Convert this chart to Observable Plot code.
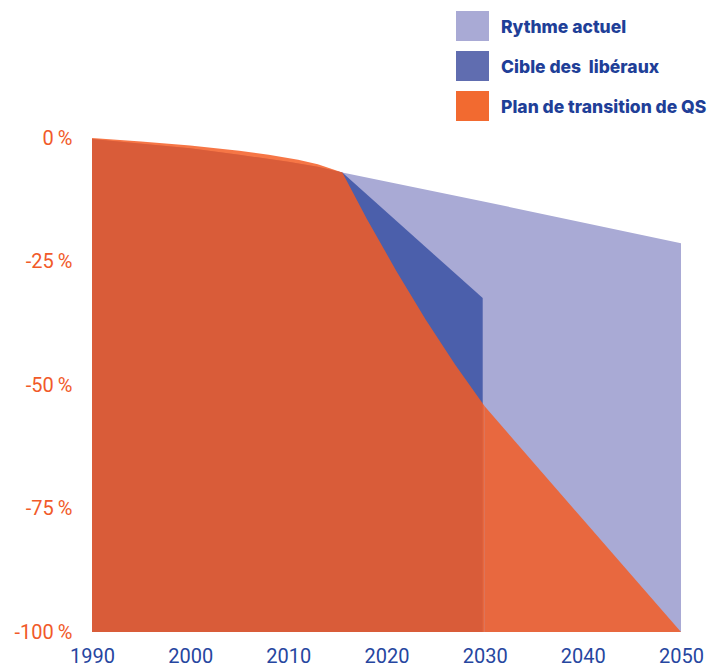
<!DOCTYPE html>
<html><head><meta charset="utf-8">
<script src="https://cdn.jsdelivr.net/npm/d3@7"></script>
<script src="https://cdn.jsdelivr.net/npm/@observablehq/plot@0.6"></script>
<style>
body{margin:0;background:#fff;}
#wrap{position:relative;width:712px;height:669px;overflow:hidden;}
.legend{position:absolute;left:456px;top:11px;font-family:Inter, "Open Sans", sans-serif;font-weight:800;font-size:17.5px;color:#1f3f98;}
.item{display:flex;align-items:center;height:30px;margin-bottom:10px;white-space:pre;}
.sw{width:33px;height:30px;margin-right:12px;flex:none;}
</style></head><body><div id="wrap"></div>
<script>
const seriesNames = ["Rythme actuel", "Cible des  libéraux", "Plan de transition de QS"];
const seriesColors = ["#a9aad5", "#606db0", "#f26a30"];

const rythmeYears = [1990, 2000, 2005, 2010, 2013, 2015.5, 2030, 2050];
const rythmeValues = [-0.2, -2.1, -3.4, -4.8, -5.8, -7.0, -12.9, -21.3];

const cibleYears = [1990, 2000, 2005, 2010, 2013, 2015.5, 2029.8];
const cibleValues = [-0.2, -2.1, -3.4, -4.8, -5.8, -7.0, -32.4];

const qsYears = [1990, 1995, 2000, 2005, 2008, 2011, 2013, 2015.5, 2018, 2021, 2024, 2027, 2030];
const qsValues = [0, -0.7, -1.5, -2.6, -3.4, -4.4, -5.3, -7.0, -16.4, -26.9, -36.8, -45.9, -54.3];

const qsLateYears = [2030, 2040, 2050];
const qsLateValues = [-54.3, -77.2, -100];

const yTicks = [0, -25, -50, -75, -100];
const xTicks = [1990, 2000, 2010, 2020, 2030, 2040, 2050];

const toRows = (xs, vs) => xs.map((x, i) => ({x, v: vs[i]}));
const rythme = toRows(rythmeYears, rythmeValues);
const cible = toRows(cibleYears, cibleValues);
const qs = toRows(qsYears, qsValues);
const qsLate = toRows(qsLateYears, qsLateValues);

const orange = "#f45c23";
const plot = Plot.plot({
  width: 712,
  height: 669,
  marginLeft: 92,
  marginRight: 31,
  marginTop: 138,
  marginBottom: 37,
  style: {fontFamily: "Roboto, sans-serif", background: "#fff", overflow: "visible"},
  x: {domain: [1990, 2050]},
  y: {domain: [-100, 0]},
  marks: [
    Plot.areaY(rythme, {x: "x", y1: d => -100, y2: "v", fill: "#a9aad5"}),
    Plot.areaY(cible, {x: "x", y1: d => -100, y2: "v", fill: "#4b5fab"}),
    Plot.areaY(qs, {x: "x", y1: d => -100, y2: "v", fill: orange, fillOpacity: 0.84}),
    Plot.areaY(qsLate, {x: "x", y1: d => -100, y2: "v", fill: orange, fillOpacity: 0.84}),
    Plot.axisY({ticks: yTicks, tickSize: 0, tickPadding: 20, fontSize: 20, fill: "#f15a29",
      tickFormat: d => String(d) + "\u2009%", label: null}),
    Plot.axisX({ticks: xTicks, tickSize: 0, tickPadding: 16, fontSize: 20, fill: "#2646a0",
      tickFormat: d => String(d), label: null})
  ]
});
const wrap = document.getElementById("wrap");
wrap.appendChild(plot);
const legend = document.createElement("div");
legend.className = "legend";
seriesNames.forEach((name, i) => {
  const item = document.createElement("div");
  item.className = "item";
  const sw = document.createElement("div");
  sw.className = "sw";
  sw.style.background = seriesColors[i];
  const t = document.createElement("span");
  t.textContent = name;
  item.appendChild(sw);
  item.appendChild(t);
  legend.appendChild(item);
});
wrap.appendChild(legend);
</script>
</body></html>
